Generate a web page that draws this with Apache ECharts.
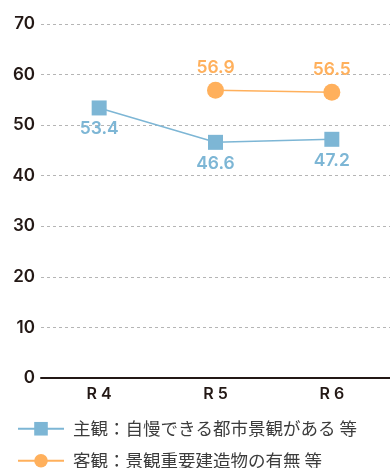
<!DOCTYPE html>
<html>
<head>
<meta charset="utf-8">
<script src="https://cdn.jsdelivr.net/npm/echarts@6/dist/echarts.min.js"></script>
<style>
html,body{margin:0;padding:0;background:#fff;}
#chart{width:390px;height:468px;}
</style>
</head>
<body>
<div id="chart"></div>
<script>
// Survey years and the two landscape indicators
const categories = ['R 4', 'R 5', 'R 6'];
const subjectiveName = '主観：自慢できる都市景観がある 等';
const objectiveName = '客観：景観重要建造物の有無 等';
const subjectiveValues = [53.4, 46.6, 47.2];
const objectiveValues = [null, 56.9, 56.5];
const yTicks = { min: 0, max: 70, interval: 10 };

const blue = '#7db6d5';
const orange = '#ffb05c';
const ink = '#231815';
const font = 'Inter, "Noto Sans CJK JP", sans-serif';
const cjkFont = '"Noto Sans CJK JP", sans-serif';

// one legend block per series, stacked under the plot
function legendRow(name, top) {
  return {
    orient: 'horizontal', left: 12, top: top,
    itemWidth: 46, itemHeight: 17, itemGap: 0,
    textStyle: { fontSize: 17.5, color: '#3c3c3c', fontFamily: cjkFont, padding: [0, 0, 0, 4] },
    data: [name]
  };
}

const chart = echarts.init(document.getElementById('chart'));
chart.setOption({
  animation: false,
  grid: { left: 41, right: -5, top: 24, bottom: 90 },
  legend: [legendRow(subjectiveName, 415), legendRow(objectiveName, 447)],
  xAxis: {
    type: 'category', data: categories, boundaryGap: true,
    axisLine: { lineStyle: { color: ink, width: 2 } },
    axisTick: { show: false },
    axisLabel: { color: ink, fontSize: 16, fontWeight: 600, fontFamily: font, margin: 8 }
  },
  yAxis: {
    type: 'value', min: yTicks.min, max: yTicks.max, interval: yTicks.interval,
    axisLine: { show: false }, axisTick: { show: false },
    axisLabel: { color: ink, fontSize: 17, fontWeight: 600, fontFamily: font, margin: 6 },
    splitLine: { lineStyle: { color: '#b5b5b5', type: [3, 3], width: 1 } }
  },
  series: [
    {
      name: subjectiveName, type: 'line', data: subjectiveValues,
      symbol: 'rect', symbolSize: 15,
      itemStyle: { color: blue }, lineStyle: { color: blue, width: 1.5 },
      label: { show: true, position: 'bottom', distance: 5, color: blue, fontSize: 17.5, fontWeight: 600, fontFamily: font }
    },
    {
      name: objectiveName, type: 'line', data: objectiveValues,
      symbol: 'circle', symbolSize: 17, connectNulls: false,
      itemStyle: { color: orange }, lineStyle: { color: orange, width: 1.5 },
      label: { show: true, position: 'top', distance: 5, color: orange, fontSize: 17.5, fontWeight: 600, fontFamily: font }
    }
  ]
});
</script>
</body>
</html>
